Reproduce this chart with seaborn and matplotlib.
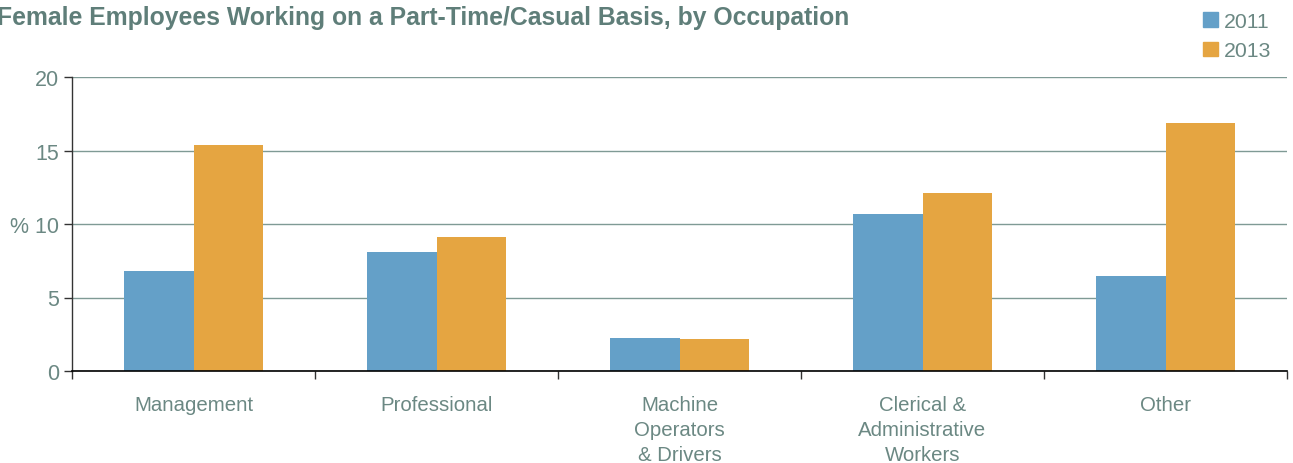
import matplotlib
matplotlib.use("Agg")
import matplotlib.pyplot as plt
import matplotlib.patches as mpatches
from matplotlib.ticker import FixedLocator
import seaborn as sns
import pandas as pd

# data
occupations = ["Management", "Professional", "Machine\nOperators\n& Drivers",
               "Clerical &\nAdministrative\nWorkers", "Other"]
pct_2011 = [6.8, 8.1, 2.25, 10.7, 6.45]
pct_2013 = [15.4, 9.1, 2.2, 12.1, 16.9]
years = ["2011", "2013"]

BLUE = "#64a0c8"
ORANGE = "#e5a541"
TXT = "#6b8883"
GRID = "#7f9a95"

df = pd.DataFrame({
    "occupation": occupations * 2,
    "year": [years[0]] * len(occupations) + [years[1]] * len(occupations),
    "pct": pct_2011 + pct_2013,
})

sns.set_theme(style="white")
plt.rcParams['font.family'] = ['Liberation Sans', 'DejaVu Sans']

fig = plt.figure(figsize=(12.93, 4.64), dpi=100)
ax = fig.add_axes([72 / 1293, 92 / 464, 1215 / 1293, 294 / 464])

sns.barplot(data=df, x="occupation", y="pct", hue="year", order=occupations,
            hue_order=years, palette=[BLUE, ORANGE], width=0.576,
            saturation=1, linewidth=0, ax=ax, legend=False)

ax.set_xlim(-0.5, len(occupations) - 0.5)
ax.set_ylim(0, 20)
ax.set_yticks([0, 5, 10, 15, 20])
ax.set_yticklabels(["0", "5", "% 10", "15", "20"])
ax.yaxis.grid(True, color=GRID, linewidth=1)
ax.set_axisbelow(True)
ax.set_xlabel("")
ax.set_ylabel("")

for s in ["top", "right"]:
    ax.spines[s].set_visible(False)
ax.spines["left"].set_color("#333333")
ax.spines["bottom"].set_color("black")
ax.spines["left"].set_linewidth(1)
ax.spines["bottom"].set_linewidth(1.2)

# tick marks at category boundaries
ax.xaxis.set_minor_locator(FixedLocator([i - 0.5 for i in range(len(occupations) + 1)]))
ax.tick_params(axis="x", which="major", length=0, pad=17, labelsize=14.7, labelcolor=TXT)
ax.tick_params(axis="x", which="minor", length=6, width=1, color="#333333", direction="out", bottom=True)
ax.tick_params(axis="y", length=6, width=1, color="#333333", direction="out", left=True,
               labelsize=15.5, labelcolor=TXT, pad=3)
for lbl in ax.get_xticklabels():
    lbl.set_linespacing(1.4)
    lbl.set_verticalalignment("top")

fig.text(-0.002, 0.962, "Female Employees Working on a Part-Time/Casual Basis, by Occupation",
         fontsize=17.8, fontweight="bold", color="#5f7e79", va="center", ha="left")

handles = [mpatches.Patch(color=BLUE, label=years[0]), mpatches.Patch(color=ORANGE, label=years[1])]
fig.legend(handles=handles, loc="upper left", bbox_to_anchor=(1190 / 1293, 1.0),
           frameon=False, fontsize=15.3, labelcolor=TXT, handlelength=0.7, handleheight=0.7,
           handletextpad=0.3, labelspacing=0.5, borderaxespad=0.2)

fig.savefig("out.png", dpi=100)
